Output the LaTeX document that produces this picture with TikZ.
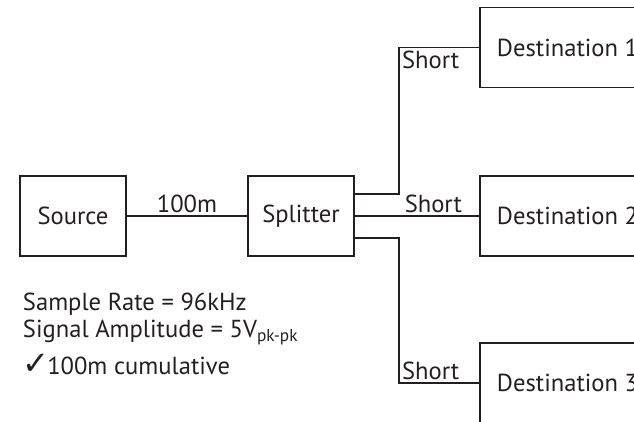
\documentclass[tikz,border=0pt]{standalone}
\usepackage{fontspec}
\setmainfont{PT Sans}
\newfontfamily\symfont{DejaVu Sans}
\usepackage{tikz}
\definecolor{inkblack}{HTML}{231F20}

\begin{document}
\begin{tikzpicture}[font=\fontsize{17.5}{19.5}\selectfont, color=inkblack,
  line width=1.4pt,
  box/.style={draw, minimum width=2.65cm, minimum height=2cm, inner sep=0pt},
  dest/.style={draw, anchor=west, minimum height=2cm, inner xsep=0.425cm},
  lbl/.style={inner sep=1.5pt}]

  % --- Canvas ---
  \useasboundingbox (0,0) rectangle (15.85,-10.525);
  \clip (0,0) rectangle (15.85,-10.525);

  % --- Boxes ---
  \node[box] (src) at (1.825,-5.4) {Source};
  \node[box] (split) at (7.525,-5.4) {Splitter};

  \node[dest] (d1) at (11.975,-1.1875) {Destination 1};
  \node[dest] (d2) at (11.975,-5.4) {Destination 2};
  \node[dest] (d3) at (11.975,-9.575) {Destination 3};

  % --- Cables ---
  \draw (src.east) -- (split.west)
    node[midway, above, lbl] (len) {100m};

  \draw ([yshift=0.55cm]split.east) -- ++(1.1,0) coordinate (k1) |- (d1.west);
  \draw (split.east) -- (d2.west);
  \draw ([yshift=-0.55cm]split.east) -- ++(1.1,0) coordinate (k3) |- (d3.west);

  % --- Cable labels ---
  \node[lbl, below right] (s1) at (k1 |- d1.west) {Short};
  \node[lbl, above left, xshift=-0.35cm] (s2) at (d2.west) {Short};
  \node[lbl, above right] (s3) at (k3 |- d3.west) {Short};

  % --- Notes ---
  \node[anchor=north west, align=left, inner sep=0pt] (notes) at (0.55,-7.3)
    {Sample Rate = 96kHz\\
     Signal Amplitude = 5V\textsubscript{pk-pk}\\[0.2cm]
     {\symfont\bfseries\fontsize{23}{19.5}\selectfont\char"2713}\kern-2pt 100m cumulative};

\end{tikzpicture}
\end{document}
